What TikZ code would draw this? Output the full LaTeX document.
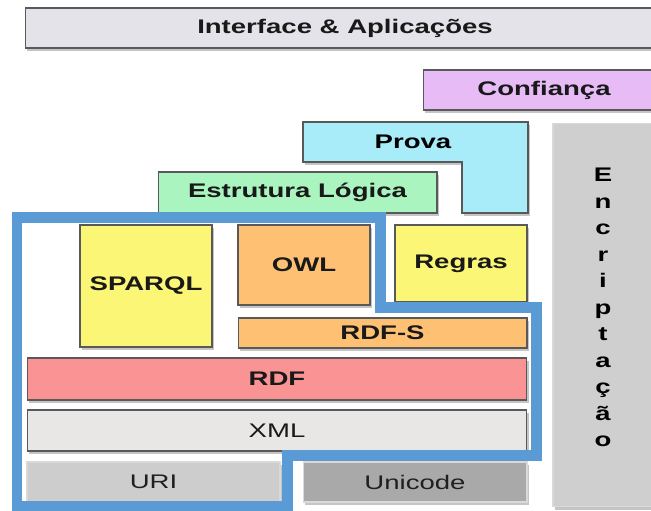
\documentclass[tikz,border=0pt]{standalone}
\usepackage{fontspec}
\setmainfont{Liberation Sans}
\usetikzlibrary{shadows}
\usepackage{xcolor}
\definecolor{cinter}{HTML}{E4E3EA}
\definecolor{cconf}{HTML}{E6BBF6}
\definecolor{cprova}{HTML}{A8ECFA}
\definecolor{clogica}{HTML}{AAF4BF}
\definecolor{cyel}{HTML}{FCF677}
\definecolor{corng}{HTML}{FEC174}
\definecolor{crdf}{HTML}{FA9494}
\definecolor{cxml}{HTML}{E9E6E6}
\definecolor{curi}{HTML}{CDCDCD}
\definecolor{cuni}{HTML}{A9A9A9}
\definecolor{cenc}{HTML}{CFCFCF}
\definecolor{cblue}{HTML}{5B9BD5}
\newcommand{\stretchlbl}[1]{\scalebox{1.4}[1]{#1}}

\begin{document}
\begin{tikzpicture}[x=0.02cm, y=-0.02cm,
  layer/.style={draw=black!65, line width=.6pt, inner sep=0pt,
    drop shadow={shadow xshift=1pt, shadow yshift=-1.6pt, opacity=.45},
    font=\fontsize{11.2}{13}\selectfont\bfseries, text=black!90},
  flat/.style={layer, draw=black!15, font=\fontsize{11.2}{13}\selectfont, text=black!88}]
\fill[white] (0,0) rectangle (651,510);
\useasboundingbox (0,0) rectangle (651,510);
% top layers
\node[layer, fill=cinter, minimum width=12.8cm, minimum height=.8cm] (inter) at (345,28) {\stretchlbl{Interface \& Aplicações}};
\node[layer, fill=cconf, minimum width=4.84cm, minimum height=.8cm] (conf) at (544,90) {\stretchlbl{Confiança}};
\fill[cprova, draw=black!65, line width=.6pt, drop shadow={shadow xshift=1pt, shadow yshift=-1.6pt, opacity=.45}]
  (303,122) -- (528,122) -- (528,213) -- (462,213) -- (462,162) -- (303,162) -- cycle;
\node[font=\fontsize{11.2}{13}\selectfont\bfseries] (prova) at (413,142) {\stretchlbl{Prova}};
\node[layer, fill=clogica, minimum width=5.58cm, minimum height=.82cm] (logica) at (297.5,192.5) {\stretchlbl{Estrutura Lógica}};
% encriptacao
\node[flat, fill=cenc, minimum width=2.24cm, minimum height=7.68cm] (enc) at (609,315) {};
\foreach \l [count=\i] in {E,n,c,r,i,p,t,a,ç,ã,o}
  \node[font=\fontsize{11.2}{13}\selectfont\bfseries, anchor=base] (enc\i) at (603,155+26.5*\i) {\stretchlbl{\l}};
% middle
\node[layer, fill=cyel, minimum width=2.64cm, minimum height=2.44cm] (sparql) at (146,286) {\stretchlbl{SPARQL}};
\node[layer, fill=corng, minimum width=2.64cm, minimum height=1.6cm] (owl) at (304,265) {\stretchlbl{OWL}};
\node[layer, fill=cyel, minimum width=2.64cm, minimum height=1.54cm] (regras) at (461,263.5) {\stretchlbl{Regras}};
\node[layer, fill=corng, minimum width=5.78cm, minimum height=.6cm] (rdfs) at (382.5,333) {\stretchlbl{RDF-S}};
\node[layer, fill=crdf, minimum width=10cm, minimum height=.84cm] (rdf) at (277,379) {\stretchlbl{RDF}};
\node[layer, fill=cxml, font=\fontsize{11.2}{13}\selectfont, minimum width=10cm, minimum height=.82cm] (xml) at (277,430.5) {\stretchlbl{XML}};
% base
\node[flat, fill=curi, minimum width=5.06cm, minimum height=.8cm] (uri) at (153.5,482) {\stretchlbl{URI}};
\node[flat, fill=cuni, minimum width=4.48cm, minimum height=.8cm] (uni) at (415,482) {\stretchlbl{Unicode}};
% highlight
\draw[cblue, line width=.22cm, line join=miter]
  (17,217) -- (380,217) -- (380,307) -- (536,307) -- (536,455) -- (287,455) -- (287,506) -- (17,506) -- cycle;
\end{tikzpicture}
\end{document}
